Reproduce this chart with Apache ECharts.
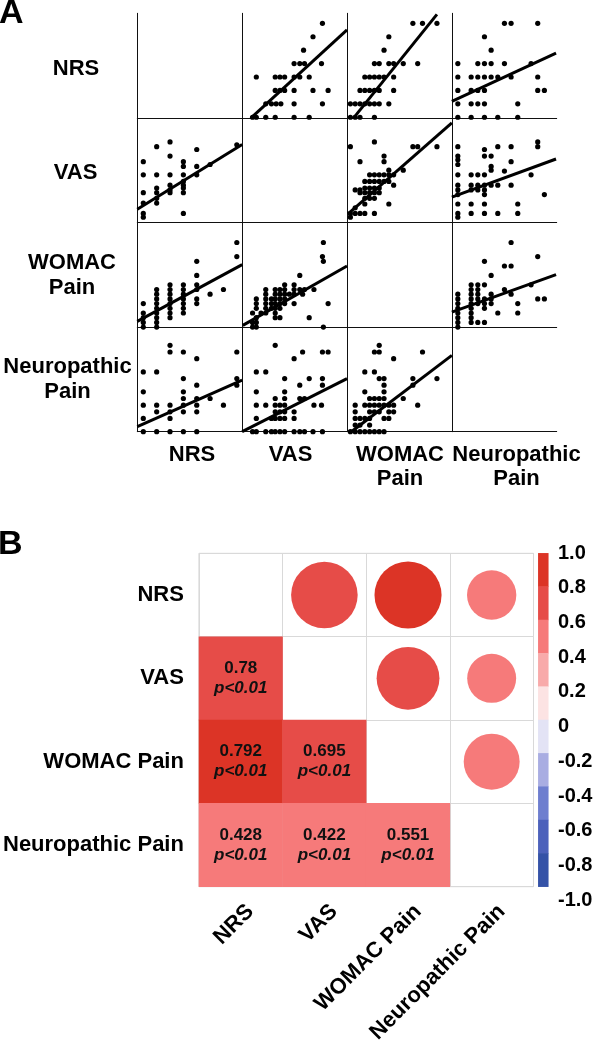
<!DOCTYPE html>
<html><head><meta charset="utf-8">
<script src="https://cdn.jsdelivr.net/npm/echarts@6/dist/echarts.min.js"></script>
<style>html,body{margin:0;padding:0;background:#fff}#c{width:596px;height:1046px}</style>
</head><body><div id="c"></div>
<script>
// ---------- DATA ----------
const variables = ['NRS', 'VAS', 'WOMAC Pain', 'Neuropathic Pain'];
const rowLabelsA = ['NRS', 'VAS', 'WOMAC\nPain', 'Neuropathic\nPain'];

// axis ranges of each variable (as x in its column, as y in its row)
const xMinVar = [2.55, -1, 1.3, 1.1];
const xMaxVar = [10.4, 110, 23.1, 16.85];
const yMinVar = [2.95, 4.3, 2, 2];
const yMaxVar = [10.75, 115.6, 24.26, 17.75];

// scatter points: p_ROW_COL = [[x = column variable, y = row variable], ...]
const p_NRS_VAS = [[84,10],[74,9],[64,8],[54,7],[60,7],[65,7],[83,7],
  [14,6],[34,6],[39,6],[44,6],[54,6],[60,6],[70,6],
  [34,5],[39,5],[44,5],[54,5],[74,5],[90,5],
  [24,4],[30,4],[35,4],[40,4],[54,4],[84,4],
  [10,3],[14,3],[24,3],[34,3],[54,3],[70,3]];
const p_NRS_WOMAC = [[15,10],[17,10],[20,10],[10,9],[9,8],
  [7,7],[8,7],[10,7],[11,7],[13,7],[16,7],
  [5,6],[6,6],[7,6],[8,6],[9,6],[11,6],
  [4,5],[5,5],[6,5],[7,5],[8,5],[11,5],
  [2,4],[3,4],[4,4],[5,4],[6,4],[7,4],[8,4],[10,4],
  [2,3],[3,3],[4,3],[7,3]];
const p_NRS_NEURO = [[9,10],[10,10],[14,10],[6,9],[7,8],
  [2,7],[5,7],[6,7],[7,7],[9,7],[13,7],
  [2,6],[4,6],[5,6],[6,6],[7,6],[8,6],[10,6],[14,6],
  [2,5],[4,5],[5,5],[6,5],[14,5],[15,5],
  [2,4],[4,4],[5,4],[6,4],[11,4],
  [2,3],[4,3],[6,3],[8,3],[11,3]];
const p_VAS_NRS = [[4,85],[5,90],[7,82],[3,69],[5,75],[6,69],[6,64],[7,64],[8,66],[10,87],
  [3,55],[4,55],[5,55],[6,55],[7,55],
  [6,48],[6,44],[6,41],[6,36],[5,44],[5,39],[5,36],
  [4,41],[4,36],[4,30],[4,25],
  [3,36],[3,25],[3,14],[3,10],[6,14]];
const p_VAS_WOMAC = [[7,90],[2,85],[15,85],[16,85],[20,85],
  [9,75],[9,69],[4,69],[10,60],[13,60],
  [6,55],[7,55],[8,55],[9,55],[10,55],[11,55],
  [5,48],[6,48],[7,48],[8,48],[9,48],[10,48],[11,44],
  [3,39],[4,39],[5,41],[6,41],[7,41],[8,41],
  [4,36],[5,36],[6,36],[7,36],[8,36],
  [5,30],[6,30],[7,30],[10,24],[5,24],[3,20],
  [2,14],[3,14],[4,14],[5,14],[7,14],[2,10]];
const p_VAS_NEURO = [[2,85],[2,75],[2,71],[2,66],[6,82],[6,75],[8,85],[10,85],[14,90],[14,85],
  [7,75],[10,69],[7,64],[7,60],[9,59],[13,55],
  [2,55],[4,55],[5,55],[6,55],
  [2,44],[4,44],[5,44],[6,44],[7,44],[8,44],[10,44],
  [2,39],[4,39],[5,39],[6,39],[2,34],[6,34],[15,34],
  [2,24],[4,24],[6,24],[11,24],
  [2,14],[4,14],[6,14],[8,14],[11,14],[2,10]];
const p_WOMAC_NRS = [[10,20],[10,17],[9,10],[8,9],
  [7,16],[7,13],[7,11],[7,10],[7,8],[7,7],
  [6,11],[6,10],[6,9],[6,8],[6,7],[6,6],[6,5],
  [5,11],[5,10],[5,9],[5,8],[5,7],[5,6],[5,5],[5,4],
  [4,10],[4,9],[4,8],[4,7],[4,6],[4,5],[4,4],[4,3],[4,2],
  [3,7],[3,5],[3,4],[3,3],[3,2]];
const p_WOMAC_VAS = [[85,20],[84,17],[85,16],[60,13],[44,11],[54,11],
  [24,10],[34,10],[39,10],[44,10],[54,10],[60,10],[65,10],[75,10],
  [24,9],[34,9],[39,9],[44,9],[49,9],[54,9],[63,9],
  [14,8],[24,8],[30,8],[34,8],[39,8],[44,8],
  [14,7],[24,7],[30,7],[34,7],[39,7],[44,7],[54,7],[90,7],
  [14,6],[24,6],[30,6],[34,6],[39,6],
  [10,5],[19,5],[24,5],[34,5],
  [14,4],[34,4],[39,4],[70,4],
  [10,3],[14,3],[10,2],[14,2],[85,2]];
const p_WOMAC_NEURO = [[10,20],[14,17],[6,16],[9,15],[10,15],[7,13],
  [4,11],[5,11],[6,11],[13,11],[4,10],[5,10],[9,10],
  [10,9],[7,9],[7,8],[7,7],[14,8],[15,8],[11,7],[8,5],[11,5],
  [2,9],[2,8],[2,7],[2,6],[2,5],[2,4],[2,3],[2,2],
  [4,9],[4,8],[4,7],[4,6],[4,5],[4,4],[4,3],
  [5,9],[5,8],[5,7],[6,8],[6,7],[6,6],[5,3],[6,3]];
const p_NEURO_NRS = [[3,11],[3,8],[3,6],[3,4],[3,2],
  [4,11],[4,6],[4,5],[4,2],
  [5,15],[5,14],[5,6],[5,5],[5,4],[5,2],
  [6,14],[6,10],[6,8],[6,7],[6,6],[6,5],[6,2],
  [7,13],[7,9],[7,7],[7,6],[7,5],[7,2],
  [8,7],[9,6],[10,14],[10,10],[10,9]];
const p_NEURO_VAS = [[34,15],[63,14],[84,14],[90,14],[54,13],[14,11],[24,11],
  [44,10],[70,10],[84,10],[60,9],[84,9],[14,8],[44,8],
  [34,7],[44,7],[60,7],[65,7],
  [14,6],[24,6],[34,6],[39,6],[44,6],[75,6],[83,6],
  [34,5],[39,5],[44,5],[54,5],
  [14,4],[30,4],[34,4],[39,4],[44,4],[54,4],
  [10,2],[14,2],[24,2],[30,2],[34,2],[39,2],[44,2],[54,2],[60,2],[65,2],[74,2],[84,2]];
const p_NEURO_WOMAC = [[8,15],[7,14],[8,14],[17,14],[11,13],[5,11],[7,11],
  [8,10],[9,10],[15,10],[20,10],[9,9],[15,9],[5,8],[9,8],
  [6,7],[7,7],[8,7],[9,7],[13,7],
  [3,6],[5,6],[6,6],[7,6],[8,6],[9,6],[10,6],[11,6],[16,6],
  [3,5],[6,5],[7,5],[8,5],[10,5],[11,5],
  [3,4],[4,4],[5,4],[6,4],[9,4],[10,4],
  [3,3],[4,3],[6,3],
  [2,2],[3,2],[4,2],[5,2],[6,2],[7,2],[8,2],[9,2]];

// fitted regression lines (two end points each, [x, y])
const fit_NRS_VAS = [[8.5,2.95],[110,9.51]];
const fit_NRS_WOMAC = [[2.69,2.95],[20,10.67]];
const fit_NRS_NEURO = [[1.1,4.19],[16.75,7.78]];
const fit_VAS_NRS = [[2.55,18.5],[10.4,87.2]];
const fit_VAS_WOMAC = [[1.52,13.5],[23.1,110.3]];
const fit_VAS_NEURO = [[1.1,31.3],[16.75,71.9]];
const fit_WOMAC_NRS = [[2.55,3.21],[10.4,15.3]];
const fit_WOMAC_VAS = [[-0.3,2.36],[110,15.0]];
const fit_WOMAC_NEURO = [[1.1,5.2],[16.75,13.17]];
const fit_NEURO_NRS = [[2.55,2.75],[10.4,9.75]];
const fit_NEURO_VAS = [[-1,2],[110,10]];
const fit_NEURO_WOMAC = [[2.2,2],[23.1,13.5]];

// panel B: correlation coefficients and p labels
const corrR = [
  [1, 0.78, 0.792, 0.428],
  [0.78, 1, 0.695, 0.422],
  [0.792, 0.695, 1, 0.551],
  [0.428, 0.422, 0.551, 1]
];
const corrPText = 'p<0.01';
const cbTicks = [1.0, 0.8, 0.6, 0.4, 0.2, 0, -0.2, -0.4, -0.6, -0.8, -1.0];

// ---------- CHART ----------
const FONT = '"Liberation Sans", Arial, Helvetica, sans-serif';
const panels = [
  [0,1,p_NRS_VAS,fit_NRS_VAS],[0,2,p_NRS_WOMAC,fit_NRS_WOMAC],[0,3,p_NRS_NEURO,fit_NRS_NEURO],
  [1,0,p_VAS_NRS,fit_VAS_NRS],[1,2,p_VAS_WOMAC,fit_VAS_WOMAC],[1,3,p_VAS_NEURO,fit_VAS_NEURO],
  [2,0,p_WOMAC_NRS,fit_WOMAC_NRS],[2,1,p_WOMAC_VAS,fit_WOMAC_VAS],[2,3,p_WOMAC_NEURO,fit_WOMAC_NEURO],
  [3,0,p_NEURO_NRS,fit_NEURO_NRS],[3,1,p_NEURO_VAS,fit_NEURO_VAS],[3,2,p_NEURO_WOMAC,fit_NEURO_WOMAC]
];

const grids = [], xAxes = [], yAxes = [], series = [];
const PW = 104.85, PH = 104.6, PL = 137.3, PT = 13.3;
const hideAx = {axisLine:{show:false}, axisTick:{show:false}, axisLabel:{show:false}, splitLine:{show:false}};
for (let r = 0; r < 4; r++) {
  for (let c = 0; c < 4; c++) {
    const i = r * 4 + c;
    grids.push({left: PL + c * PW, top: PT + r * PH, width: PW, height: PH});
    const line = {show:true, onZero:false, lineStyle:{color:'#111', width:1}};
    xAxes.push({gridIndex:i, type:'value', min:xMinVar[c], max:xMaxVar[c], axisLine:line,
      axisTick:{show:false}, axisLabel:{show:false}, splitLine:{show:false}});
    yAxes.push({gridIndex:i, type:'value', min:yMinVar[r], max:yMaxVar[r], axisLine:line,
      axisTick:{show:false}, axisLabel:{show:false}, splitLine:{show:false}});
  }
}
panels.forEach(([r, c, pts, fit]) => {
  const i = r * 4 + c;
  series.push({type:'scatter', xAxisIndex:i, yAxisIndex:i, data:pts, symbolSize:5.2,
    itemStyle:{color:'#000', opacity:1}, clip:false, silent:true});
  series.push({type:'line', xAxisIndex:i, yAxisIndex:i, data:fit, showSymbol:false,
    lineStyle:{color:'#000', width:3}, clip:true, silent:true});
});

// Panel B grid (16), x-label grid (17), colorbar (18), colorbar labels (19)
const BL = 198.5, BT = 553.3, BW = 335, BH = 333.4;
grids.push({left:BL, top:BT, width:BW, height:BH, show:true, borderColor:'#d9d9d9', borderWidth:1});
xAxes.push({gridIndex:16, type:'category', data:variables, axisLine:{show:false}, axisTick:{show:false},
  axisLabel:{show:false}, splitLine:{show:true, interval:0, lineStyle:{color:'#d9d9d9', width:1}}});
yAxes.push({gridIndex:16, type:'category', data:variables, inverse:true, axisLine:{show:false}, axisTick:{show:false},
  axisLabel:{show:true, interval:0, margin:15, color:'#000', fontFamily:FONT, fontWeight:'bold', fontSize:22, padding:[13,0,0,0]},
  splitLine:{show:true, interval:0, lineStyle:{color:'#d9d9d9', width:1}}});

grids.push({left:BL + 10, top:BT, width:BW, height:BH});
xAxes.push({gridIndex:17, type:'category', data:variables, axisLine:{show:false}, axisTick:{show:false},
  axisLabel:{show:true, interval:0, rotate:45, margin:30, color:'#000', fontFamily:FONT, fontWeight:'bold', fontSize:22},
  splitLine:{show:false}});
yAxes.push(Object.assign({gridIndex:17, type:'value'}, hideAx));

const cbSegs = cbTicks.slice(0, -1).map((v, k) => (v + cbTicks[k + 1]) / 2);
grids.push({left:538.3, top:BT, width:10, height:BH});
xAxes.push(Object.assign({gridIndex:18, type:'category', data:['']}, hideAx));
yAxes.push(Object.assign({gridIndex:18, type:'category', data:cbSegs.map(String), inverse:true}, hideAx));

grids.push({left:558, top:BT, width:1, height:346.7});
xAxes.push(Object.assign({gridIndex:19, type:'value'}, hideAx));
yAxes.push({gridIndex:19, type:'value', min:-1, max:1, interval:0.2, axisLine:{show:false}, axisTick:{show:false},
  splitLine:{show:false},
  axisLabel:{show:true, inside:true, margin:0, color:'#000', fontFamily:FONT, fontWeight:'bold', fontSize:20,
    formatter: v => Math.abs(v) < 1e-9 ? '0' : v.toFixed(1)}});

const lower = [], upper = [];
for (let r = 0; r < 4; r++) for (let c = 0; c < 4; c++) {
  if (r > c) lower.push([c, r, corrR[r][c]]);
  if (r < c) upper.push([c, r, corrR[r][c]]);
}
const heatIdx = series.length;
series.push({type:'heatmap', xAxisIndex:16, yAxisIndex:16, data:lower, silent:true,
  label:{show:true, formatter: p => '{v|' + p.value[2] + '}\n{p|' + corrPText + '}',
    rich:{v:{fontFamily:FONT, fontWeight:'bold', fontSize:17, lineHeight:20, color:'#111'},
          p:{fontFamily:FONT, fontWeight:'bold', fontStyle:'italic', fontSize:17, lineHeight:20, color:'#111'}}}});
const cellSize = BW / 4;
series.push({type:'scatter', xAxisIndex:16, yAxisIndex:16, data:upper, silent:true,
  itemStyle:{opacity:1},
  symbolSize: d => 0.9 * cellSize * Math.sqrt(Math.abs(d[2]))});
series.push({type:'heatmap', xAxisIndex:18, yAxisIndex:18, silent:true,
  data: cbSegs.map((v, k) => [0, k, v])});

const option = {
  animation:false,
  backgroundColor:'#fff',
  textStyle:{fontFamily:FONT},
  grid:grids, xAxis:xAxes, yAxis:yAxes, series:series,
  visualMap:{type:'piecewise', show:false, dimension:2, seriesIndex:[heatIdx, heatIdx + 1, heatIdx + 2],
    pieces:[
      {gte:0.79, lte:1, color:'#DC3426'},
      {gte:0.6, lt:0.79, color:'#E64C48'},
      {gte:0.4, lt:0.6, color:'#F67A7A'},
      {gte:0.2, lt:0.4, color:'#F8AAAA'},
      {gte:0, lt:0.2, color:'#FCE3E3'},
      {gte:-0.2, lt:0, color:'#E3E3F5'},
      {gte:-0.4, lt:-0.2, color:'#A9ADE2'},
      {gte:-0.6, lt:-0.4, color:'#6E7ECF'},
      {gte:-0.8, lt:-0.6, color:'#4C61BB'},
      {gte:-1, lt:-0.8, color:'#3452A7'}
    ]},
  graphic:[]
};

function txt(text, x, y, size, align, lh) {
  return {type:'text', x:x, y:y, silent:true, style:{text:text, fill:'#000', fontFamily:FONT, fontWeight:'bold',
    fontSize:size, align:align, textAlign:align, verticalAlign:'middle', textVerticalAlign:'middle', lineHeight:lh || size}};
}
option.graphic.push(txt('A', -1, 14, 34, 'left'));
option.graphic.push(txt('B', -2, 545, 34, 'left'));
const rowLabX = [76, 75.5, 72, 67.5];
const rowLabY = [69, 172.5, 275, 379];
const colLabX = [192, 290.5, 400, 516.5];
rowLabelsA.forEach((t, k) => option.graphic.push(txt(t, rowLabX[k], rowLabY[k], 22, 'center', 25)));
rowLabelsA.forEach((t, k) => {
  const nl = t.split('\n').length;
  option.graphic.push(txt(t, colLabX[k], 455 + (nl - 1) * 12, 22, 'center', 24));
});

const chart = echarts.init(document.getElementById('c'), null, {renderer:'canvas'});
chart.setOption(option);
</script></body></html>
